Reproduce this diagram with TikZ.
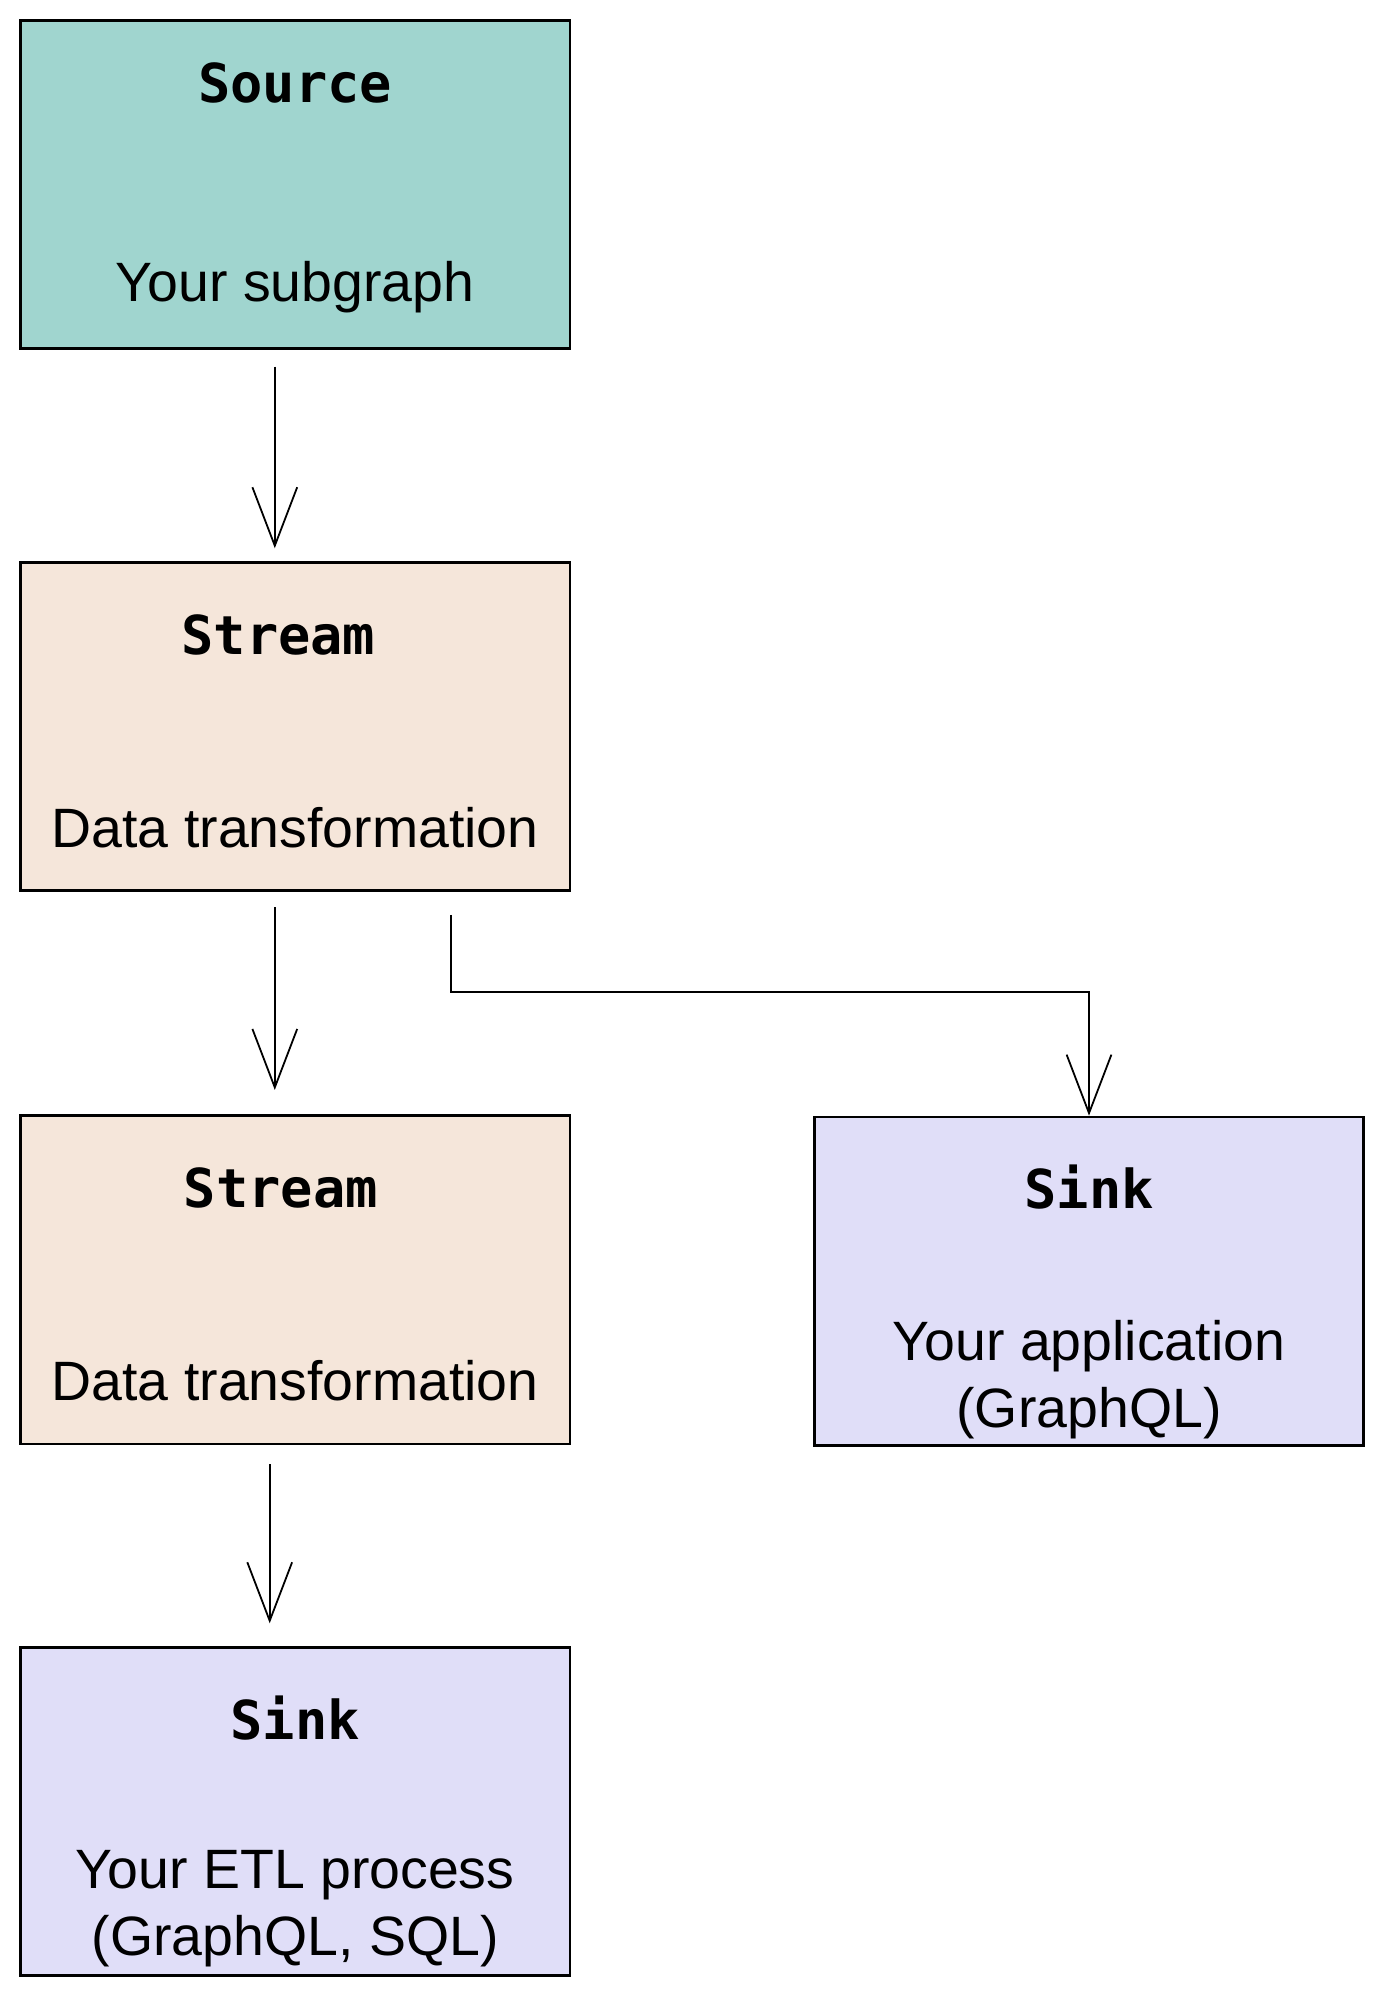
\documentclass[tikz,border=0pt]{standalone}
\usepackage{fontspec}
\setmainfont{Liberation Sans}
\setmonofont{DejaVu Sans Mono}
\usetikzlibrary{positioning,arrows.meta}
\definecolor{sourcefill}{HTML}{A0D5CF}
\definecolor{streamfill}{HTML}{F5E6DA}
\definecolor{sinkfill}{HTML}{E0DEF8}

\begin{document}
\begin{tikzpicture}
\tikzset{
    source/.style={rectangle, draw, line width=1.5pt, minimum width=10.8cm, minimum height=6.45cm, fill=sourcefill},
    stream/.style={rectangle, draw, line width=1.5pt, minimum width=10.8cm, minimum height=6.45cm, fill=streamfill},
    sink/.style={rectangle, draw, line width=1.5pt, minimum width=10.8cm, minimum height=6.45cm, fill=sinkfill},
    title/.style={anchor=base, font=\fontsize{30}{36}\selectfont\ttfamily\bfseries},
    body/.style={anchor=base, align=center, font=\fontsize{31}{37.5}\selectfont},
    edge/.style={-{Straight Barb[length=1.15cm, width=0.88cm]}, line width=1pt}
}
\useasboundingbox (0,0) rectangle (27.125,-39.125);

% Блоки
\node[source] (src) at (5.8,-3.625) {};
\node[stream] (str1) at (5.8,-14.275) {};
\node[stream] (str2) at (5.8,-25.15) {};
\node[sink] (app) at (21.4,-25.175) {};
\node[sink] (etl) at (5.8,-35.6) {};

% Заголовки та підписи
\node[title, yshift=-1.65cm] (srcT) at (src.north) {Source};
\node[body, yshift=0.95cm] (srcB) at (src.south) {Your subgraph};
\node[title, xshift=-0.33cm, yshift=-1.83cm] (str1T) at (str1.north) {Stream};
\node[body, yshift=0.88cm] (str1B) at (str1.south) {Data transformation};
\node[title, xshift=-0.28cm, yshift=-1.83cm] (str2T) at (str2.north) {Stream};
\node[body, yshift=0.88cm] (str2B) at (str2.south) {Data transformation};
\node[title, yshift=-1.83cm] (appT) at (app.north) {Sink};
\node[body, yshift=0.37cm] (appB) at (app.south) {Your application\\(GraphQL)};
\node[title, yshift=-1.83cm] (etlT) at (etl.north) {Sink};
\node[body, yshift=0.43cm] (etlB) at (etl.south) {Your ETL process\\(GraphQL, SQL)};

% Стрілки
\draw[edge] ([xshift=-0.4cm, yshift=-0.33cm]src.south) -- ([xshift=-0.4cm, yshift=0.25cm]str1.north);
\draw[edge] ([xshift=-0.4cm, yshift=-0.3cm]str1.south) -- ([xshift=-0.4cm, yshift=0.48cm]str2.north);
\draw[edge] ([xshift=3.07cm, yshift=-0.45cm]str1.south) |- ([yshift=2.43cm]app.north) -- (app.north);
\draw[edge] ([xshift=-0.5cm, yshift=-0.37cm]str2.south) -- ([xshift=-0.5cm, yshift=0.45cm]etl.north);
\end{tikzpicture}
\end{document}
